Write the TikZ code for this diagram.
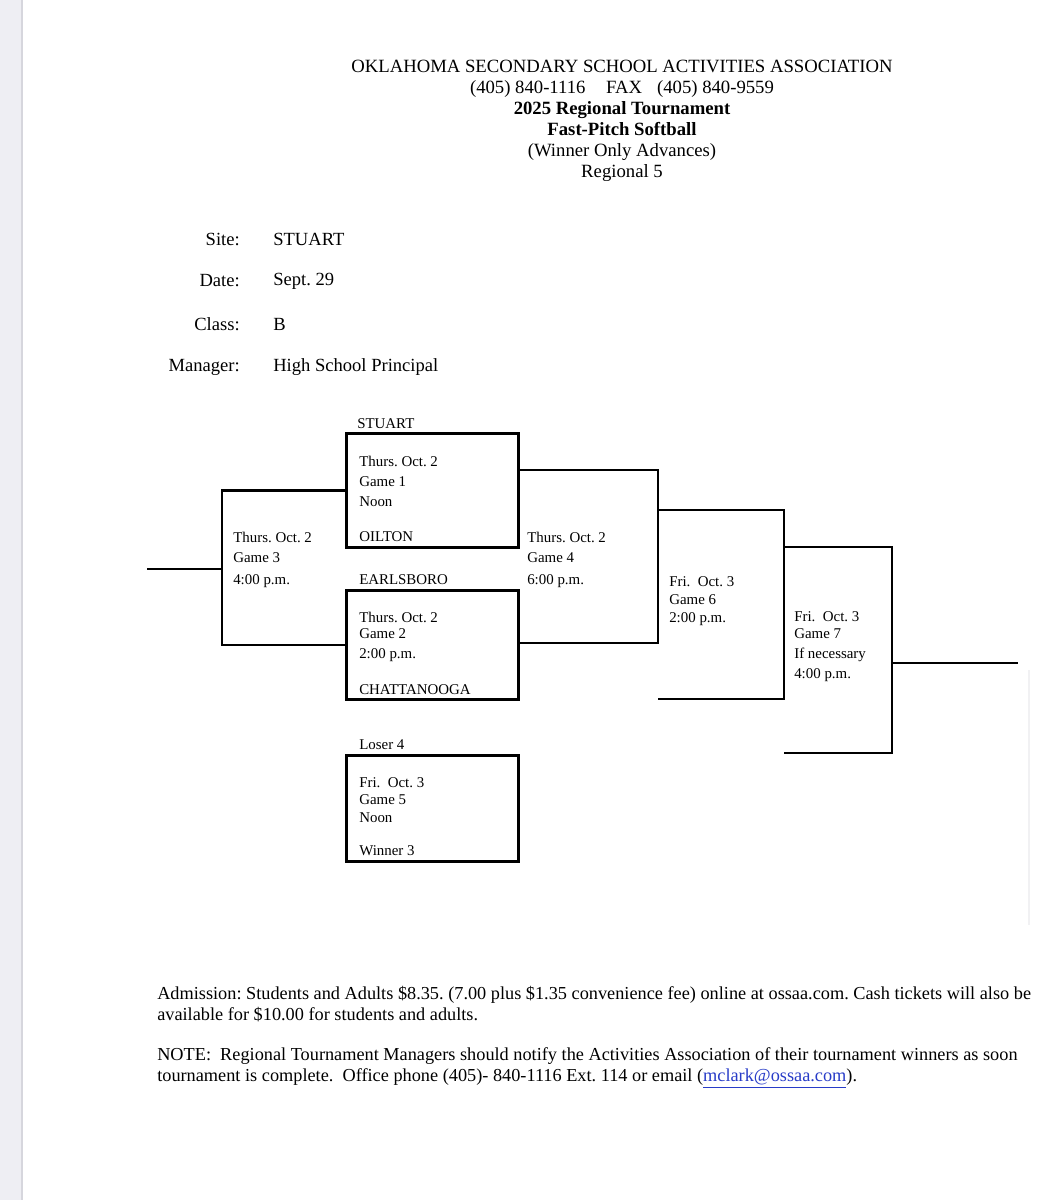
\documentclass[tikz,border=0pt]{standalone}
\usepackage{fontspec}
\setmainfont{Liberation Serif}
\usetikzlibrary{positioning,calc}
\definecolor{linkblue}{RGB}{40,60,200}
\definecolor{stripgray}{RGB}{238,238,243}
\definecolor{edgegray}{RGB}{214,214,221}
\definecolor{shadowgray}{RGB}{241,241,243}

\begin{document}
\frenchspacing
\begin{tikzpicture}[
  x=0.025cm, y=-0.025cm,
  bline/.style={line width=2.1pt},
  gamebox/.style={draw, line width=2.1pt, minimum width=4.3cm, anchor=north west, inner sep=0pt},
  info/.style={font=\fontsize{10.6}{14.2}\selectfont, align=left, anchor=west, inner sep=0pt},
  team/.style={font=\fontsize{10.6}{12}\selectfont, anchor=west, inner sep=0pt},
  head/.style={font=\fontsize{13.3}{15}\selectfont, align=center, inner sep=0pt},
  field/.style={font=\fontsize{13.2}{15}\selectfont, inner sep=0pt},
  note/.style={font=\fontsize{13}{14.9}\selectfont, align=left, anchor=west, inner sep=0pt},
]
  \useasboundingbox (0,0) rectangle (1040,1200);
  \fill[white] (0,0) rectangle (1040,1200);
  \fill[stripgray] (0,0) rectangle (21,1200);
  \draw[edgegray, line width=1.2pt] (22,0) -- (22,1200);
  \draw[shadowgray, line width=1pt] (1029,670) -- (1029,925);

  % heading
  \node[head] (title) at (622,121) {OKLAHOMA SECONDARY SCHOOL ACTIVITIES ASSOCIATION\\
    (405) 840-1116\hspace{1.1em}FAX\hspace{0.8em}(405) 840-9559\\
    \textbf{2025 Regional Tournament}\\
    \textbf{Fast-Pitch Softball}\\
    (Winner Only Advances)\\
    Regional 5};

  \node[field, anchor=east] (sitel)  at (240,239) {Site:};
  \node[field, anchor=east] (datel)  at (240,281) {Date:};
  \node[field, anchor=east] (classl) at (240,324) {Class:};
  \node[field, anchor=east] (mgrl)   at (240,367) {Manager:};
  \node[field, anchor=west] (site)  at (273,239) {STUART};
  \node[field, anchor=west] (date)  at (273,281) {Sept. 29};
  \node[field, anchor=west] (class) at (273,324) {B};
  \node[field, anchor=west] (mgr)   at (273,367) {High School Principal};

  % bracket boxes
  \node[gamebox, minimum height=2.85cm]  (g1) at (345,432) {};
  \node[gamebox, minimum height=2.725cm] (g2) at (345,589) {};
  \node[gamebox, minimum height=2.65cm]  (g5) at (345,754) {};

  \coordinate (g3)    at (222,569);
  \coordinate (out3)  at (147,569);
  \coordinate (g4top) at (658,470);
  \coordinate (g4bot) at (658,643);
  \coordinate (g6top) at (784,510);
  \coordinate (g6bot) at (784,699);
  \coordinate (in6)   at (658,699);
  \coordinate (g7top) at (892,547);
  \coordinate (g7bot) at (892,753);
  \coordinate (in7)   at (784,753);
  \coordinate (out7)  at (1018,663);

  \draw[bline] (g1.west) -| (g3) |- (g2.west);
  \draw[bline] (g3) -- (out3);
  \draw[bline] (g1.east |- g4top) -- (g4top) -- (g4bot) -- (g2.east |- g4bot);
  \draw[bline] (g4top |- g6top) -- (g6top) -- (g6bot) -- (in6);
  \draw[bline] (g6top |- g7top) -- (g7top) -- (g7bot) -- (in7);
  \draw[bline] (g7top |- out7) -- (out7);

  % teams
  \node[team] (stuart)  at (357,424) {STUART};
  \node[team] (oilton)  at (359,537) {OILTON};
  \node[team] (earls)   at (359,580) {EARLSBORO};
  \node[team] (chatt)   at (359,690) {CHATTANOOGA};
  \node[team] (loser4)  at (359,745) {Loser 4};
  \node[team] (winner3) at (359,851) {Winner 3};

  % game details
  \node[info] (info1) at (359,481) {Thurs. Oct. 2\\Game 1\\Noon};
  \node[info] (info2) at (359,637) {Thurs. Oct. 2\\[-2.4pt]Game 2\\2:00 p.m.};
  \node[info] (info3) at (233,560) {Thurs. Oct. 2\\Game 3\\[1.8pt]4:00 p.m.};
  \node[info] (info4) at (527,560) {Thurs. Oct. 2\\Game 4\\[1.8pt]6:00 p.m.};
  \node[info] (info5) at (359,800) {Fri.\ \ Oct. 3\\[-2.2pt]Game 5\\[-1.5pt]Noon};
  \node[info] (info6) at (669,601) {Fri.\ \ Oct. 3\\[-0.8pt]Game 6\\[-1.5pt]2:00 p.m.};
  \node[info] (info7) at (794,647) {Fri.\ \ Oct. 3\\[-2.2pt]Game 7\\If necessary\\4:00 p.m.};

  % footer
  \node[note] (adm) at (157,1004) {Admission: Students and Adults \$8.35. (7.00 plus \$1.35 convenience fee) online at ossaa.com. Cash tickets will also be\\
    available for \$10.00 for students and adults.};
  \node[note] (note) at (157,1068) {NOTE:\ \ Regional Tournament Managers should notify the Activities Association of their tournament winners as soon\\
    tournament is complete.\ \ Office phone (405)- 840-1116 Ext. 114 or email (\textcolor{linkblue}{\underline{mclark@ossaa.com}}).};
\end{tikzpicture}
\end{document}
